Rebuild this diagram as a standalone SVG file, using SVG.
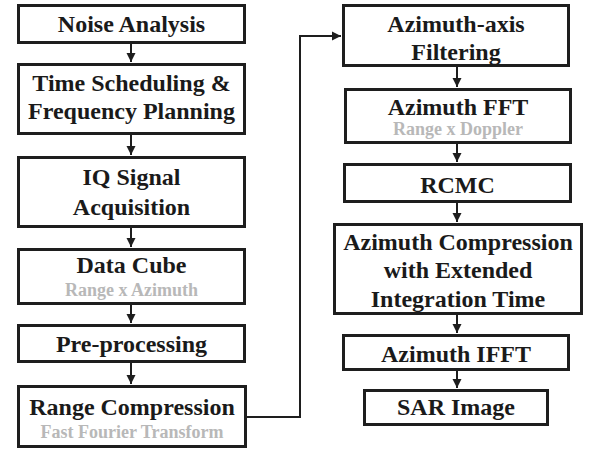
<svg xmlns="http://www.w3.org/2000/svg" width="590" height="451" viewBox="0 0 590 451">
<style>
.box{fill:#fff;stroke:#1e1e1e;stroke-width:3}
.t{font-family:"Liberation Serif","Times New Roman",serif;font-weight:bold;font-size:24px;fill:#1a1a1a;text-anchor:middle}
.s{font-family:"Liberation Serif","Times New Roman",serif;font-weight:bold;font-size:18px;fill:#b8b8b8;text-anchor:middle}
.c{fill:none;stroke:#1e1e1e;stroke-width:2}
</style>
<defs>
<marker id="ah" markerUnits="userSpaceOnUse" markerWidth="10" markerHeight="10" refX="9" refY="5" orient="auto">
<path d="M0,0.5 L9,5 L0,9.5 z" fill="#1e1e1e"/>
</marker>
</defs>
<rect width="590" height="451" fill="#fff"/>
<g id="connectors">
<line class="c" x1="131" y1="44" x2="131" y2="62" marker-end="url(#ah)"/>
<line class="c" x1="131" y1="135" x2="131" y2="155" marker-end="url(#ah)"/>
<line class="c" x1="131" y1="228" x2="131" y2="247" marker-end="url(#ah)"/>
<line class="c" x1="131" y1="305" x2="131" y2="323" marker-end="url(#ah)"/>
<line class="c" x1="131" y1="363" x2="131" y2="384" marker-end="url(#ah)"/>
<path class="c" d="M247,417 H300 V36 H341" marker-end="url(#ah)"/>
<line class="c" x1="457" y1="67" x2="457" y2="87" marker-end="url(#ah)"/>
<line class="c" x1="457" y1="144" x2="457" y2="162" marker-end="url(#ah)"/>
<line class="c" x1="457" y1="203" x2="457" y2="222" marker-end="url(#ah)"/>
<line class="c" x1="457" y1="315" x2="457" y2="333" marker-end="url(#ah)"/>
<line class="c" x1="457" y1="371" x2="457" y2="388" marker-end="url(#ah)"/>
</g>
<g id="noise">
<rect class="box" x="18.5" y="5.5" width="226" height="37"/>
<text class="t" x="131.5" y="32">Noise Analysis</text>
</g>
<g id="scheduling">
<rect class="box" x="18.5" y="64.5" width="226" height="69"/>
<text class="t" x="131.5" y="91">Time Scheduling &amp;</text>
<text class="t" x="131.5" y="119">Frequency Planning</text>
</g>
<g id="iq">
<rect class="box" x="18.5" y="157.5" width="226" height="69"/>
<text class="t" x="131.5" y="185">IQ Signal</text>
<text class="t" x="131.5" y="215">Acquisition</text>
</g>
<g id="datacube">
<rect class="box" x="18.5" y="249.5" width="226" height="54"/>
<text class="t" x="131.5" y="273">Data Cube</text>
<text class="s" x="131.5" y="296">Range x Azimuth</text>
</g>
<g id="preprocessing">
<rect class="box" x="18.5" y="325.5" width="226" height="36"/>
<text class="t" x="131.5" y="352">Pre-processing</text>
</g>
<g id="rangecomp">
<rect class="box" x="18.5" y="386.5" width="227" height="60"/>
<text class="t" x="132" y="415">Range Compression</text>
<text class="s" x="132" y="438">Fast Fourier Transform</text>
</g>
<g id="azfilter">
<rect class="box" x="343.5" y="5.5" width="225" height="60"/>
<text class="t" x="456" y="32">Azimuth-axis</text>
<text class="t" x="456" y="60">Filtering</text>
</g>
<g id="azfft">
<rect class="box" x="345.5" y="89.5" width="225" height="53"/>
<text class="t" x="458" y="115">Azimuth FFT</text>
<text class="s" x="458" y="135">Range x Doppler</text>
</g>
<g id="rcmc">
<rect class="box" x="344.5" y="164.5" width="226" height="37"/>
<text class="t" x="457.5" y="193">RCMC</text>
</g>
<g id="azcomp">
<rect class="box" x="334.5" y="224.5" width="247" height="89"/>
<text class="t" x="458" y="250">Azimuth Compression</text>
<text class="t" x="458" y="278">with Extended</text>
<text class="t" x="458" y="307">Integration Time</text>
</g>
<g id="azifft">
<rect class="box" x="343.5" y="335.5" width="225" height="34"/>
<text class="t" x="456" y="362">Azimuth IFFT</text>
</g>
<g id="sar">
<rect class="box" x="364.5" y="390.5" width="183" height="34"/>
<text class="t" x="456" y="415">SAR Image</text>
</g>
</svg>
